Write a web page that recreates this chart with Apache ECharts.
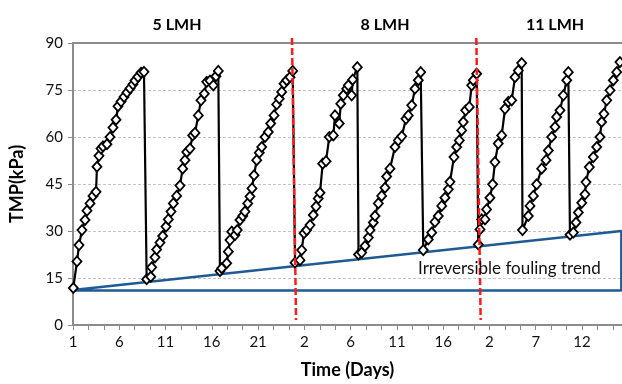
<!DOCTYPE html>
<html>
<head>
<meta charset="utf-8">
<script src="https://cdn.jsdelivr.net/npm/echarts@6/dist/echarts.min.js"></script>
<style>
html,body{margin:0;padding:0;background:#fff;}
#chart{width:622px;height:384px;}
</style>
</head>
<body>
<div id="chart"></div>
<script>
// x values are axis positions in days (0 = day 1 of the 5 LMH phase)
const xLabels = ['1','6','11','16','21','2','6','11','16','2','7','12'];
const yTicks = [0, 15, 30, 45, 60, 75, 90];
const phaseNames = ['5 LMH', '8 LMH', '11 LMH'];

const dayC1 = [0.03,0.43,0.65,0.97,1.30,1.51,1.84,2.16,2.49,2.59,2.81,3.03,3.24,3.67,4.00,4.32,4.65,4.86,5.19,5.51,5.83,6.16,6.48,6.70,7.02,7.35,7.67];
const tmpC1 = [11.8,20.3,25.5,30.3,33.5,36.5,38.8,41.2,42.5,50.5,54.0,56.3,57.0,57.7,60.0,63.0,65.5,69.8,71.3,72.8,74.2,75.5,76.8,78.0,79.2,80.5,80.8];
const dayC2 = [7.96,8.40,8.50,8.86,9.04,9.40,9.69,10.05,10.30,10.59,10.84,11.20,11.56,11.85,12.10,12.29,12.64,12.93,13.18,13.54,13.83,14.19,14.45,14.80,15.16,15.45,15.70];
const tmpC2 = [14.6,15.4,18.4,21.6,24.1,26.3,28.4,31.4,33.7,36.2,38.8,41.2,44.5,49.9,52.6,55.2,56.3,60.5,61.3,66.9,71.7,73.8,77.6,78.0,76.5,79.4,81.1];
const dayC3 = [15.88,16.07,16.61,16.78,16.96,17.15,17.50,17.75,18.04,18.34,18.58,18.88,19.12,19.34,19.56,19.85,20.13,20.39,20.75,21.10,21.36,21.72,22.01,22.29,22.55,22.80,23.09,23.45,23.74];
const tmpC3 = [17.2,18.1,19.7,23.4,27.1,29.8,28.7,30.3,33.5,34.8,36.2,38.8,41.0,43.6,47.8,52.6,55.0,56.8,60.0,61.6,64.3,66.9,70.4,72.2,74.4,77.0,78.1,79.1,81.1];
const dayC4 = [23.99,24.53,24.71,24.96,25.25,25.61,25.96,26.26,26.50,26.69,26.98,27.34,27.69,28.13,28.31,28.77,28.93,29.21,29.57,29.75,30.11,30.22,30.72];
const tmpC4 = [19.9,20.7,23.9,29.3,30.3,31.9,35.1,37.8,40.4,42.2,51.5,52.3,60.0,60.5,66.9,64.3,70.6,73.3,75.4,76.5,73.3,78.3,82.3];
const dayC5 = [30.85,31.19,31.55,31.91,32.09,32.45,32.63,32.99,33.35,33.71,33.89,34.25,34.79,35.15,35.52,35.98,36.23,36.60,36.95,37.31,37.57];
const tmpC5 = [22.5,23.1,25.2,27.9,30.3,32.7,34.8,38.8,41.2,43.8,47.4,49.9,56.8,58.9,60.2,65.8,66.9,70.1,75.4,78.1,80.7];
const dayC6 = [37.85,38.39,38.76,39.11,39.47,39.84,40.19,40.55,40.73,41.17,41.46,41.74,42.00,42.17,42.43,42.82,43.08,43.25,43.62];
const tmpC6 = [23.9,27.3,29.5,32.9,34.8,38.0,40.6,43.3,45.7,53.6,56.8,58.9,62.1,64.8,68.5,69.6,76.5,78.1,80.2];
const dayC7 = [43.79,43.98,44.16,44.52,44.69,45.05,45.34,45.59,45.95,46.32,46.68,47.04,47.40,47.76,48.12,48.48];
const tmpC7 = [25.7,30.5,33.7,33.7,36.9,40.6,44.9,52.0,57.9,60.5,69.0,71.2,71.7,79.1,81.2,83.6];
const dayC8 = [48.57,49.20,49.38,49.74,50.10,50.64,51.11,51.36,51.72,52.08,52.26,52.62,52.98,53.35,53.52];
const tmpC8 = [30.3,34.8,38.0,41.2,44.9,49.9,52.6,55.7,60.0,63.2,66.4,68.5,73.3,78.1,80.7];
const dayC9 = [53.70,54.06,54.35,54.60,54.97,55.32,55.43,55.79,56.22,56.59,56.94,57.12,57.37,57.67,58.02,58.38,58.75,59.10];
const tmpC9 = [28.8,29.5,32.7,35.9,39.0,41.7,45.6,50.4,53.6,56.8,60.0,64.8,67.4,71.7,74.9,78.1,80.7,83.9];

// irreversible fouling trend (closed wedge)
const trendDay = [0, 59.25, 59.25, 0];
const trendTmp = [11.2, 30.0, 11.0, 11.0];

// phase boundaries (slightly slanted dashed red lines)
const boundary1Day = [23.66, 24.10];
const boundary2Day = [43.58, 44.05];
const boundaryTmp = [91.6, 1.6];

const xMax = 59.32;

const dayArrays = [dayC1,dayC2,dayC3,dayC4,dayC5,dayC6,dayC7,dayC8,dayC9];
const tmpArrays = [tmpC1,tmpC2,tmpC3,tmpC4,tmpC5,tmpC6,tmpC7,tmpC8,tmpC9];
const tmpData = [];
dayArrays.forEach((d, i) => d.forEach((x, j) => tmpData.push([x, tmpArrays[i][j]])));
const zip = (a, b) => a.map((v, i) => [v, b[i]]);

const FONT = 'Lato';
const chart = echarts.init(document.getElementById('chart'), null, {renderer: 'canvas'});
chart.setOption({
  animation: false,
  backgroundColor: '#fff',
  textStyle: {fontFamily: FONT},
  grid: {left: 73, right: 0, top: 43, bottom: 59, containLabel: false},
  title: [
    {text: phaseNames[0], left: 172, top: 12, textAlign: 'center', textStyle: {fontFamily: FONT, fontWeight: 'bold', fontSize: 16, color: '#000'}},
    {text: phaseNames[1], left: 380, top: 12, textAlign: 'center', textStyle: {fontFamily: FONT, fontWeight: 'bold', fontSize: 16, color: '#000'}},
    {text: phaseNames[2], left: 550, top: 12, textAlign: 'center', textStyle: {fontFamily: FONT, fontWeight: 'bold', fontSize: 16, color: '#000'}}
  ],
  xAxis: [{
    type: 'value', min: 0, max: xMax, interval: 5,
    name: 'Time (Days)', nameLocation: 'middle', nameGap: 36,
    nameTextStyle: {fontFamily: FONT, fontWeight: 'bold', fontSize: 18, color: '#000'},
    axisLine: {show: true, lineStyle: {color: '#8c8c8c', width: 2}},
    axisTick: {show: true, length: 5, lineStyle: {color: '#8c8c8c', width: 1}},
    minorTick: {show: true, splitNumber: 3, length: 5, lineStyle: {color: '#8c8c8c', width: 1}},
    splitLine: {show: false},
    axisLabel: {
      margin: 10, fontSize: 15, color: '#111', fontFamily: FONT, showMaxLabel: false,
      formatter: function (v) {
        const i = Math.round(v / 5);
        return (Math.abs(v - i * 5) < 1e-6 && i < xLabels.length) ? xLabels[i] : '';
      }
    }
  }, {
    type: 'value', position: 'top', min: 0, max: xMax,
    axisLine: {show: true, lineStyle: {color: '#8c8c8c', width: 2}},
    axisTick: {show: false}, axisLabel: {show: false}, splitLine: {show: false}
  }],
  yAxis: {
    type: 'value', min: 0, max: 90, interval: 15,
    name: 'TMP(kPa)', nameLocation: 'middle', nameGap: 47, nameRotate: 90,
    nameTextStyle: {fontFamily: FONT, fontWeight: 'bold', fontSize: 18, color: '#000'},
    axisLine: {show: true, lineStyle: {color: '#8c8c8c', width: 2}},
    axisTick: {show: true, length: 5, lineStyle: {color: '#8c8c8c'}},
    splitLine: {show: true, lineStyle: {color: '#c4c4c4', type: [3, 2], width: 1}},
    axisLabel: {margin: 10, fontSize: 15, color: '#111', fontFamily: FONT,
      formatter: v => yTicks.indexOf(v) >= 0 ? String(v) : ''}
  },
  graphic: [{
    type: 'text', left: 418, top: 260, z: 100,
    style: {text: 'Irreversible fouling trend', fontFamily: FONT, fontSize: 17, fill: '#111'}
  }],
  series: [
    {
      type: 'line', name: 'trend', data: zip(trendDay, trendTmp), symbol: 'none',
      lineStyle: {color: '#1f5b92', width: 2.5}, z: 3, clip: false, silent: true
    },
    {
      type: 'line', name: 'TMP', data: tmpData, symbol: 'diamond', symbolSize: [9, 10],
      lineStyle: {color: '#000', width: 2.2},
      itemStyle: {color: '#fff', borderColor: '#000', borderWidth: 1.8},
      z: 4, clip: false
    },
    {
      type: 'line', name: 'b1', data: zip(boundary1Day, boundaryTmp), symbol: 'none',
      lineStyle: {color: '#ff1a1a', width: 2.5, type: [7, 3]}, z: 6, clip: false, silent: true
    },
    {
      type: 'line', name: 'b2', data: zip(boundary2Day, boundaryTmp), symbol: 'none',
      lineStyle: {color: '#ff1a1a', width: 2.5, type: [7, 3]}, z: 6, clip: false, silent: true
    }
  ]
});
</script>
</body>
</html>
